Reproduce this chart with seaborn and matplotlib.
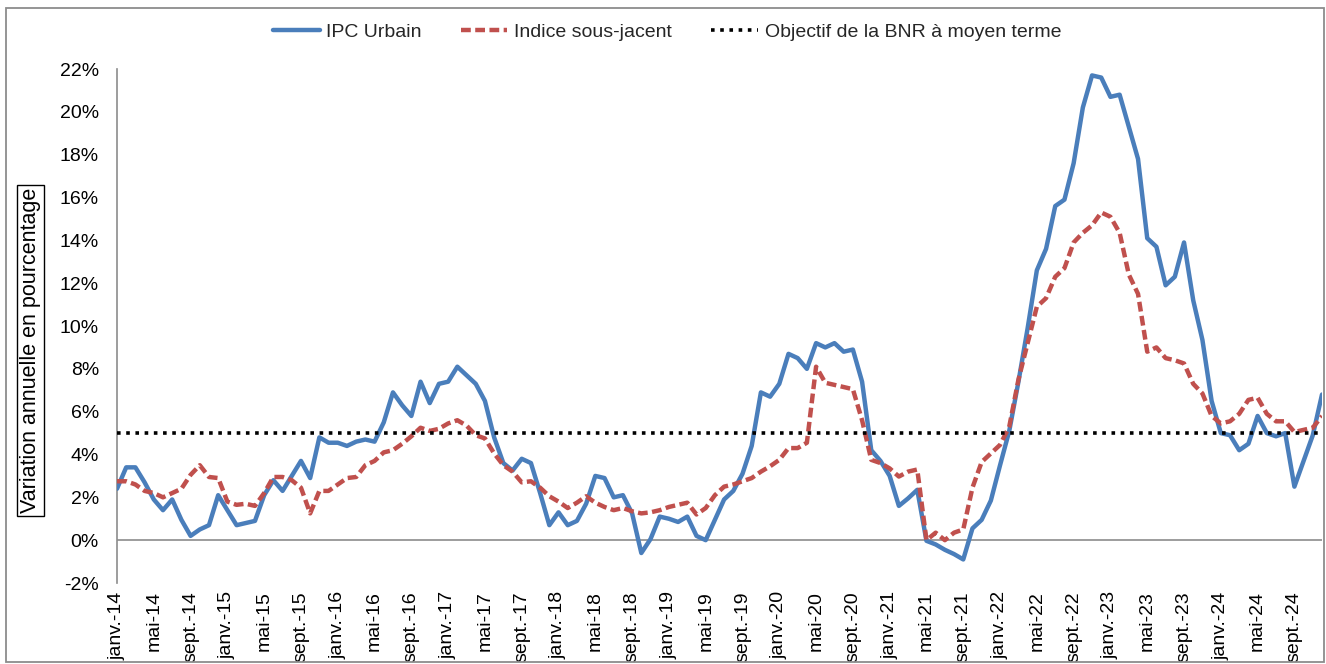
import matplotlib
matplotlib.use("Agg")
import matplotlib.pyplot as plt
import numpy as np
import pandas as pd
import seaborn as sns
from matplotlib.patches import Rectangle

# ---------------- data ----------------
month_names = ["janv.", "févr.", "mars", "avr.", "mai", "juin",
               "juil.", "août", "sept.", "oct.", "nov.", "déc."]
years = list(range(14, 25))
categories = [f"{m}-{y:02d}" for y in years for m in month_names]  # janv.-14 ... déc.-24

ipc_urbain = [
    2.4, 3.4, 3.4, 2.7, 1.9, 1.4, 1.9, 0.95, 0.2, 0.5, 0.7, 2.1,      # 2014
    1.4, 0.7, 0.8, 0.9, 2.1, 2.8, 2.3, 3.0, 3.7, 2.9, 4.8, 4.55,      # 2015
    4.55, 4.4, 4.6, 4.7, 4.6, 5.5, 6.9, 6.3, 5.8, 7.4, 6.4, 7.3,      # 2016
    7.4, 8.1, 7.7, 7.3, 6.5, 4.8, 3.6, 3.25, 3.8, 3.6, 2.2, 0.7,      # 2017
    1.3, 0.7, 0.9, 1.7, 3.0, 2.9, 2.0, 2.1, 1.25, -0.6, 0.05, 1.1,    # 2018
    1.0, 0.85, 1.1, 0.2, 0.0, 0.95, 1.9, 2.3, 3.1, 4.4, 6.9, 6.7,     # 2019
    7.3, 8.7, 8.5, 8.0, 9.2, 9.0, 9.2, 8.8, 8.9, 7.4, 4.2, 3.7,       # 2020
    3.0, 1.6, 1.95, 2.35, -0.03, -0.2, -0.45, -0.65, -0.9, 0.55, 0.95, 1.85,  # 2021
    3.5, 5.1, 7.4, 9.9, 12.6, 13.6, 15.6, 15.9, 17.6, 20.2, 21.7, 21.6,       # 2022
    20.7, 20.8, 19.3, 17.8, 14.1, 13.7, 11.9, 12.3, 13.9, 11.2, 9.35, 6.5,    # 2023
    5.0, 4.9, 4.2, 4.5, 5.8, 5.0, 4.85, 5.0, 2.5, 3.7, 4.9, 6.8,              # 2024
]

indice_sous_jacent = [
    2.75, 2.75, 2.6, 2.3, 2.2, 2.0, 2.2, 2.4, 3.05, 3.5, 2.95, 2.9,   # 2014
    1.8, 1.65, 1.7, 1.6, 2.2, 2.95, 2.95, 2.8, 2.45, 1.25, 2.3, 2.3,  # 2015
    2.6, 2.9, 2.95, 3.5, 3.7, 4.1, 4.2, 4.5, 4.85, 5.25, 5.1, 5.2,    # 2016
    5.45, 5.6, 5.35, 4.9, 4.75, 4.05, 3.5, 3.2, 2.7, 2.75, 2.45, 2.05,  # 2017
    1.8, 1.5, 1.75, 2.05, 1.75, 1.55, 1.4, 1.5, 1.35, 1.25, 1.3, 1.4,   # 2018
    1.55, 1.65, 1.75, 1.2, 1.5, 2.1, 2.5, 2.6, 2.75, 2.9, 3.2, 3.45,    # 2019
    3.75, 4.3, 4.3, 4.55, 8.1, 7.35, 7.25, 7.15, 7.05, 5.6, 3.75, 3.6,  # 2020
    3.35, 2.97, 3.2, 3.3, 0.0, 0.35, 0.0, 0.35, 0.5, 2.45, 3.65, 4.05,  # 2021
    4.45, 5.3, 7.5, 9.2, 10.9, 11.3, 12.3, 12.7, 13.9, 14.35, 14.7, 15.3,  # 2022
    15.1, 14.35, 12.4, 11.5, 8.8, 9.0, 8.5, 8.4, 8.25, 7.3, 6.85, 5.8,     # 2023
    5.45, 5.55, 5.9, 6.55, 6.65, 5.9, 5.55, 5.55, 5.05, 5.15, 5.25, 5.8,   # 2024
]

objectif_bnr = 5.0

series_names = ["IPC Urbain", "Indice sous-jacent", "Objectif de la BNR à moyen terme"]
y_ticks = [-2, 0, 2, 4, 6, 8, 10, 12, 14, 16, 18, 20, 22]
y_tick_labels = [f"{v}%" for v in y_ticks]
y_label = "Variation annuelle en pourcentage"

# ---------------- style ----------------
sns.set_theme(style="white")
plt.rcParams["font.family"] = ["Liberation Sans", "DejaVu Sans"]

W, H = 1326, 664
fig = plt.figure(figsize=(W / 100, H / 100), dpi=100)
ax = fig.add_axes([117 / W, 1 - 583 / H, (1322 - 117) / W, (583 - 69) / H])

df = pd.DataFrame({
    "mois": np.arange(len(categories)),
    series_names[0]: ipc_urbain,
    series_names[1]: indice_sous_jacent,
})

ax.axhline(0, color="#8c8c8c", linewidth=1.2, zorder=1)

sns.lineplot(data=df, x="mois", y=series_names[0], ax=ax, color="#4A7EBB",
             linewidth=3.2, label=series_names[0], zorder=3)
sns.lineplot(data=df, x="mois", y=series_names[1], ax=ax, color="#C0504D",
             linewidth=3.2, linestyle=(0, (2.2, 1.0)), label=series_names[1], zorder=4)
ax.axhline(objectif_bnr, color="black", linewidth=2.6, linestyle=(0, (1, 1.55)),
           label=series_names[2], zorder=5)

ax.set_xlim(0, len(categories) - 1)
ax.set_ylim(-2, 22)
tick_pos = list(range(0, len(categories), 4))
ax.set_xticks(tick_pos)
ax.set_xticklabels([categories[i] for i in tick_pos], rotation=90)
ax.set_yticks(y_ticks)
ax.set_yticklabels(y_tick_labels)
ax.tick_params(axis="both", length=0, labelsize=14, labelcolor="black")
ax.tick_params(axis="y", pad=13)
ax.tick_params(axis="x", pad=6)
ax.set_xlabel("")
ax.set_ylabel(y_label, fontsize=15.5, color="black")
ax.yaxis.set_label_coords(-0.063, 0.452)
ax.yaxis.label.set_bbox(dict(facecolor="white", edgecolor="black", linewidth=1.0, pad=2))

for s in ["top", "right", "bottom"]:
    ax.spines[s].set_visible(False)
ax.spines["left"].set_color("#8c8c8c")
ax.spines["left"].set_linewidth(1.2)

handles, labels = ax.get_legend_handles_labels()
if ax.get_legend() is not None:
    ax.get_legend().remove()
fig.legend(handles, labels, loc="center", bbox_to_anchor=(667 / W, 1 - 32 / H),
           ncol=3, frameon=False, fontsize=14, handlelength=2.4,
           columnspacing=2.0, handletextpad=0.35)

fig.patches.append(Rectangle((6 / W, 2 / H), (1324 - 6) / W, (656 - 2) / H,
                             transform=fig.transFigure, fill=False,
                             edgecolor="#8c8c8c", linewidth=1.3))

fig.savefig("out.png", dpi=100)
